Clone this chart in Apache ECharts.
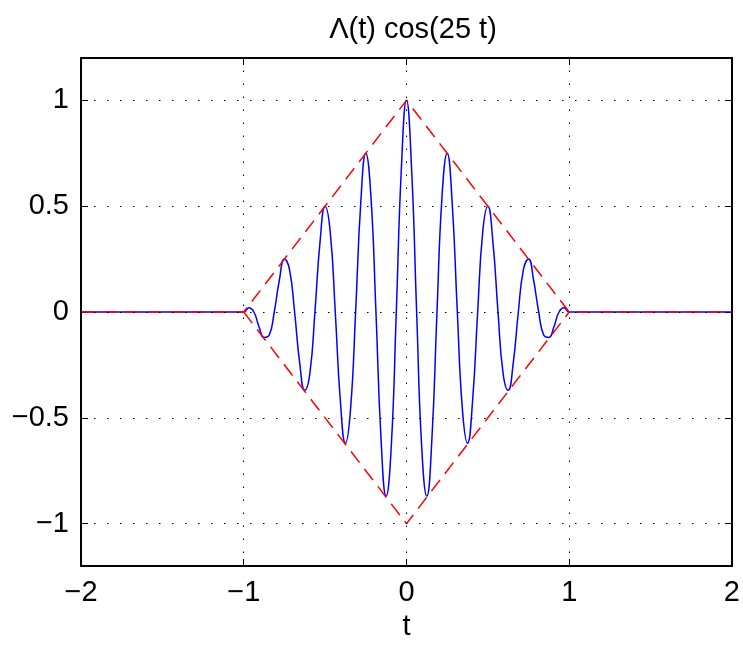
<!DOCTYPE html>
<html>
<head>
<meta charset="utf-8">
<script src="https://cdn.jsdelivr.net/npm/echarts@6/dist/echarts.min.js"></script>
<style>html,body{margin:0;padding:0;background:#fff;overflow:hidden}#c{width:100vw;height:100vh}</style>
</head>
<body>
<div id="c"></div>
<script>
// ---- data ----
const titleText = 'Λ(t) cos(25 t)';
const xName = 't';
const xTicks = [-2, -1, 0, 1, 2];
const yTicks = [-1, -0.5, 0, 0.5, 1];

// modulated signal (blue), sampled every 1/32 in t between -1 and 1
const sigT = [-2,
  -1, -0.96875, -0.9375, -0.90625, -0.875, -0.84375, -0.8125, -0.78125,
  -0.75, -0.71875, -0.6875, -0.65625, -0.625, -0.59375, -0.5625, -0.53125,
  -0.5, -0.46875, -0.4375, -0.40625, -0.375, -0.34375, -0.3125, -0.28125,
  -0.25, -0.21875, -0.1875, -0.15625, -0.125, -0.09375, -0.0625, -0.03125,
  0,
  0.03125, 0.0625, 0.09375, 0.125, 0.15625, 0.1875, 0.21875, 0.25,
  0.28125, 0.3125, 0.34375, 0.375, 0.40625, 0.4375, 0.46875, 0.5,
  0.53125, 0.5625, 0.59375, 0.625, 0.65625, 0.6875, 0.71875, 0.75,
  0.78125, 0.8125, 0.84375, 0.875, 0.90625, 0.9375, 0.96875, 1,
  2];
const sigY = [0,
  0, 0.02, 0, -0.07, -0.12, -0.11, 0, 0.15,
  0.25, 0.20, 0, -0.24, -0.37, -0.29, 0, 0.33,
  0.5, 0.38, 0, -0.42, -0.62, -0.46, 0, 0.51,
  0.75, 0.55, 0, -0.60, -0.87, -0.64, 0, 0.68,
  1,
  0.68, 0, -0.64, -0.87, -0.60, 0, 0.55, 0.75,
  0.51, 0, -0.46, -0.62, -0.42, 0, 0.38, 0.5,
  0.33, 0, -0.29, -0.37, -0.24, 0, 0.20, 0.25,
  0.15, 0, -0.11, -0.12, -0.07, 0, 0.02, 0,
  0];

// triangle envelope (red dashed)
const envUpT = [-2, -1, 0, 1, 2];
const envUpY = [0, 0, 1, 0, 0];
const envLoT = [-1, 0, 1];
const envLoY = [0, -1, 0];

// ---- build ----
const zip = (a, b) => a.map((v, i) => [v, b[i]]);
const fmt = v => String(v).replace('-', '\u2212');
const FONT = 'Liberation Sans, Arial, Helvetica, sans-serif';
const FS = 29;

const chart = echarts.init(document.getElementById('c'), null, {renderer: 'canvas'});
const gridLine = {type: [1.5, 11.5], color: '#000', width: 1};
const axisLineStyle = {lineStyle: {color: '#000', width: 2}};

chart.setOption({
  animation: false,
  backgroundColor: '#fff',
  title: {
    text: titleText, left: 408, top: 10, textAlign: 'center',
    textStyle: {fontFamily: FONT, fontSize: FS, fontWeight: 'normal', color: '#000'}
  },
  grid: {left: 81, right: 7, top: 58, bottom: 71, containLabel: false},
  xAxis: [
    {type: 'value', min: -2, max: 2, interval: 1, position: 'bottom',
     name: xName, nameLocation: 'middle', nameGap: 46,
     nameTextStyle: {fontFamily: FONT, fontSize: FS, color: '#000'},
     axisLine: {show: true, onZero: false, ...axisLineStyle},
     axisTick: {show: true, inside: true, length: 7, lineStyle: {color: '#000', width: 1}},
     axisLabel: {fontFamily: FONT, fontSize: FS, color: '#000', margin: 12, formatter: fmt},
     splitLine: {show: false}},
    {type: 'value', min: -2, max: 2, interval: 1, position: 'top',
     axisLine: {show: true, onZero: false, ...axisLineStyle},
     axisTick: {show: true, inside: true, length: 7, lineStyle: {color: '#000', width: 1}},
     axisLabel: {show: false}, splitLine: {show: false}}
  ],
  yAxis: [
    {type: 'value', min: -1.2, max: 1.2, position: 'left',
     axisLine: {show: true, onZero: false, ...axisLineStyle},
     axisTick: {show: true, inside: true, length: 7, customValues: yTicks, lineStyle: {color: '#000', width: 1}},
     axisLabel: {fontFamily: FONT, fontSize: FS, color: '#000', margin: 12, customValues: yTicks, formatter: fmt},
     splitLine: {show: false}},
    {type: 'value', min: -1.2, max: 1.2, position: 'right',
     axisLine: {show: true, onZero: false, ...axisLineStyle},
     axisTick: {show: true, inside: true, length: 7, customValues: yTicks, lineStyle: {color: '#000', width: 1}},
     axisLabel: {show: false, customValues: yTicks}, splitLine: {show: false}}
  ],
  series: [
    {type: 'line', xAxisIndex: 0, yAxisIndex: 0, z: 1, silent: true,
     data: [[-2, 0]], symbol: 'none', lineStyle: {opacity: 0},
     markLine: {
       silent: true, symbol: ['none', 'none'], label: {show: false},
       lineStyle: gridLine, animation: false,
       data: xTicks.filter(v => v > -2 && v < 2).map(v => ({xAxis: v}))
         .concat(yTicks.map(v => ({yAxis: v})))
     }},
    {type: 'line', xAxisIndex: 0, yAxisIndex: 0, z: 3, data: zip(sigT, sigY),
     smooth: 0.5, symbol: 'none', lineStyle: {color: '#0000ff', width: 1.5}},
    {type: 'line', xAxisIndex: 0, yAxisIndex: 0, z: 4, data: zip(envUpT, envUpY),
     symbol: 'none', lineStyle: {color: '#ff0000', width: 1.5, type: [14, 8]}},
    {type: 'line', xAxisIndex: 0, yAxisIndex: 0, z: 4, data: zip(envLoT, envLoY),
     symbol: 'none', lineStyle: {color: '#ff0000', width: 1.5, type: [14, 8]}}
  ]
});
</script>
</body>
</html>
